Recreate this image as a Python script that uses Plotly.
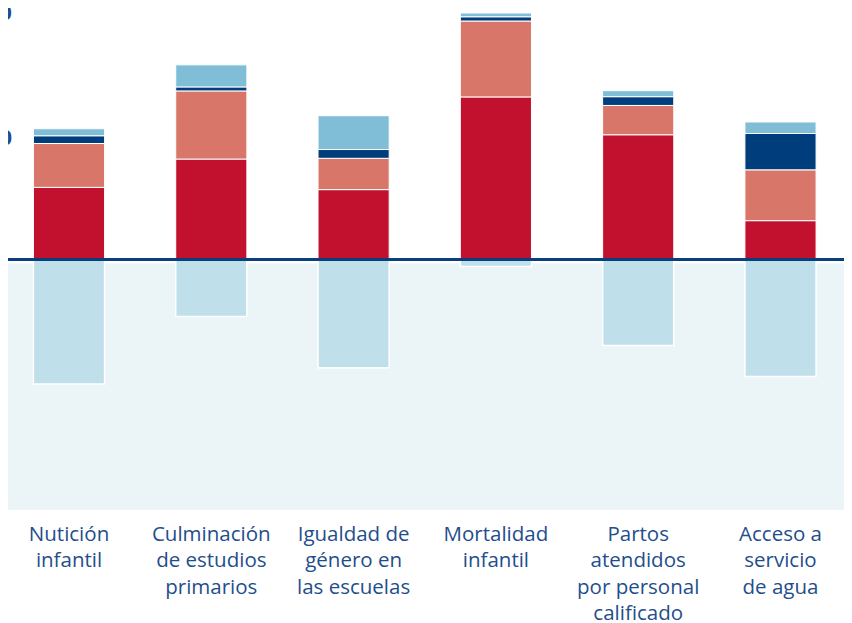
import plotly.graph_objects as go

categories = [
    "Nutición<br>infantil",
    "Culminación<br>de estudios<br>primarios",
    "Igualdad de<br>género en<br>las escuelas",
    "Mortalidad<br>infantil",
    "Partos<br>atendidos<br>por personal<br>calificado",
    "Acceso a<br>servicio<br>de agua",
]
seg_red = [28.8, 40.1, 27.9, 64.9, 49.8, 15.5]
seg_salmon = [17.5, 27.2, 12.5, 30.3, 11.7, 20.3]
seg_navy = [3.1, 1.6, 3.5, 1.7, 3.5, 14.5]
seg_light = [2.8, 8.8, 13.5, 1.5, 2.4, 4.6]
seg_negative = [-49.7, -22.8, -43.2, -2.8, -34.3, -46.7]
y_ticks = [50, 100]

TEXT = "#1F4E8C"
x = list(range(len(categories)))

fig = go.Figure()
for vals, col, lw in [
    (seg_red, "#C2112F", 1),
    (seg_salmon, "#D8766A", 1),
    (seg_navy, "#003D7C", 1),
    (seg_light, "#80BED8", 1),
    (seg_negative, "#BFDFEB", 1.5),
]:
    fig.add_trace(go.Bar(
        x=x, y=vals, width=0.5,
        marker=dict(color=col, line=dict(color="white", width=lw)),
        hoverinfo="skip", showlegend=False,
    ))

fig.add_shape(type="rect", xref="paper", yref="y", x0=0, x1=1, y0=-100, y1=-1.5,
              fillcolor="#EBF4F7", line=dict(width=0), layer="below")
fig.add_shape(type="line", xref="paper", yref="y", x0=0, x1=1, y0=0, y1=0,
              line=dict(color="#0A3F7E", width=3), layer="above")

for t in y_ticks:
    fig.add_annotation(xref="paper", yref="y", x=0, y=t, text=str(t), showarrow=False,
                       xanchor="right", xshift=6, yshift=-2,
                       font=dict(family="Open Sans", size=22, color=TEXT, weight="bold"))

fig.update_layout(
    width=852, height=623,
    margin=dict(l=0, r=0, t=0, b=121),
    barmode="relative", bargap=0.5,
    plot_bgcolor="white", paper_bgcolor="white",
    xaxis=dict(range=[-0.4287, 5.5587], tickvals=x, ticktext=categories, showgrid=False,
               zeroline=False, showline=False, ticks="", automargin=False,
               ticklabelstandoff=9,
               tickfont=dict(family="Open Sans", size=20.5, color=TEXT)),
    yaxis=dict(range=[-100, 100.4], showgrid=False, zeroline=False, showline=False,
               showticklabels=False, ticks="", automargin=False),
)

fig.write_html("out.html")
